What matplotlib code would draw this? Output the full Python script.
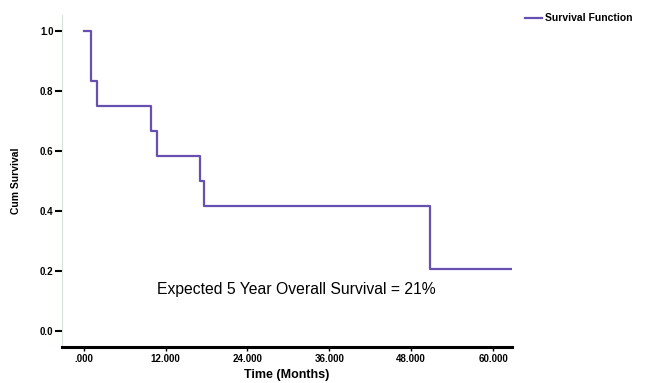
import matplotlib
matplotlib.use("Agg")
import matplotlib.pyplot as plt

# Kaplan-Meier step data
time_months = [0.0, 1.0, 1.9, 9.9, 10.7, 17.0, 17.6, 50.7, 62.7]
cum_survival = [1.0, 0.833, 0.75, 0.667, 0.583, 0.5, 0.417, 0.208, 0.208]

x_ticks = [0, 12, 24, 36, 48, 60]
x_tick_labels = [".000", "12.000", "24.000", "36.000", "48.000", "60.000"]
y_ticks = [0.0, 0.2, 0.4, 0.6, 0.8, 1.0]
y_tick_labels = ["0.0", "0.2", "0.4", "0.6", "0.8", "1.0"]

plt.rcParams['font.family'] = ['Liberation Sans', 'DejaVu Sans']
line_color = '#6650b0'

fig = plt.figure(figsize=(6.45, 3.83), dpi=100)
ax = fig.add_axes([0.096, 0.094, 0.698, 0.867])

ax.step(time_months, cum_survival, where='post', color=line_color, lw=1.6,
        label='Survival Function')

ax.set_xlim(-3.2, 62.8)
ax.set_ylim(-0.053, 1.053)
ax.set_xticks(x_ticks)
ax.set_xticklabels(x_tick_labels, fontsize=7, fontweight='bold')
ax.set_yticks(y_ticks)
ax.set_yticklabels(y_tick_labels, fontsize=7, fontweight='bold')

ax.tick_params(axis='y', length=5, width=1.5, pad=1)
ax.tick_params(axis='x', length=3, width=1.0, pad=2)

for side in ['top', 'right']:
    ax.spines[side].set_visible(False)
ax.spines['bottom'].set_linewidth(2.2)
ax.spines['bottom'].set_color('black')
ax.spines['left'].set_linewidth(0.8)
ax.spines['left'].set_color('#d5e3d8')

ax.set_xlabel('Time (Months)', fontsize=9, fontweight='bold', labelpad=4)
ax.set_ylabel('Cum Survival', fontsize=7.5, fontweight='bold', labelpad=14)

ax.text(0.52, 0.172, 'Expected 5 Year Overall Survival = 21%',
        transform=ax.transAxes, ha='center', va='center', fontsize=11.3)

fig.legend(loc='upper left', bbox_to_anchor=(0.8, 0.99), frameon=False,
           handlelength=1.6, handletextpad=0.3,
           prop={'weight': 'bold', 'size': 7.5})

fig.savefig('out.png', dpi=100)
